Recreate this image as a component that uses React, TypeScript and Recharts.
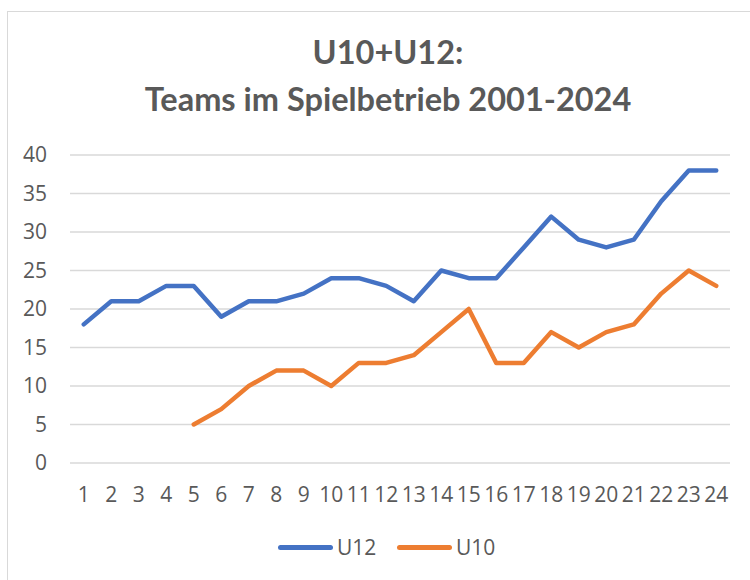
import { CartesianGrid, Line, LineChart, XAxis, YAxis } from "recharts";

const years = [
  "1", "2", "3", "4", "5", "6", "7", "8", "9", "10", "11", "12",
  "13", "14", "15", "16", "17", "18", "19", "20", "21", "22", "23", "24",
];
const u12 = [18, 21, 21, 23, 23, 19, 21, 21, 22, 24, 24, 23, 21, 25, 24, 24, 28, 32, 29, 28, 29, 34, 38, 38];
const u10 = [null, null, null, null, 5, 7, 10, 12, 12, 10, 13, 13, 14, 17, 20, 13, 13, 17, 15, 17, 18, 22, 25, 23];
const yTicks = [0, 5, 10, 15, 20, 25, 30, 35, 40];

const series = [
  { key: "U12", color: "#4472C4" },
  { key: "U10", color: "#ED7D31" },
];

const data = years.map((y, i) => ({ year: y, U12: u12[i], U10: u10[i] }));

const TITLE_FONT = "Lato, 'Open Sans', sans-serif";
const FONT = "'Open Sans', Lato, sans-serif";
const TEXT = "#595959";

export default function App() {
  return (
    <div
      style={{
        position: "absolute",
        left: 0,
        top: 0,
        width: 750,
        height: 580,
        overflow: "hidden",
        background: "#fff",
        fontFamily: FONT,
      }}
    >
      <div
        style={{
          position: "absolute",
          left: 7,
          top: 11,
          width: 780,
          height: 600,
          border: "1.5px solid #d9d9d9",
        }}
      />
      <div
        style={{
          position: "absolute",
          left: 0,
          top: 28,
          width: 776,
          textAlign: "center",
          fontFamily: TITLE_FONT,
          fontSize: 32.5,
          fontWeight: 700,
          lineHeight: "47px",
          color: TEXT,
        }}
      >
        U10+U12:
        <br />
        Teams im Spielbetrieb 2001-2024
      </div>
      <LineChart
        width={750}
        height={580}
        data={data}
        margin={{ top: 155, right: 20, bottom: 77, left: 0 }}
      >
        <CartesianGrid vertical={false} stroke="#d9d9d9" strokeWidth={1.5} />
        <XAxis
          dataKey="year"
          padding={{ left: 13.75, right: 13.75 }}
          axisLine={false}
          tickLine={false}
          tickSize={0}
          tickMargin={24}
          height={40}
          interval={0}
          tick={{ fontSize: 21, fill: TEXT, fontFamily: FONT }}
        />
        <YAxis
          domain={[0, 40]}
          ticks={yTicks}
          width={70}
          axisLine={false}
          tickLine={false}
          tickSize={0}
          tickMargin={23}
          tick={{ fontSize: 21, fill: TEXT, fontFamily: FONT }}
        />
        {series.map((s) => (
          <Line
            key={s.key}
            dataKey={s.key}
            stroke={s.color}
            strokeWidth={4.5}
            strokeLinejoin="round"
            strokeLinecap="round"
            dot={false}
            activeDot={false}
            isAnimationActive={false}
          />
        ))}
      </LineChart>
      {series.map((s, i) => (
        <div
          key={s.key}
          style={{
            position: "absolute",
            left: 278 + i * 119,
            top: 533,
            height: 28,
            display: "flex",
            alignItems: "center",
            fontSize: 21,
            color: TEXT,
          }}
        >
          <span
            style={{
              display: "inline-block",
              width: 55,
              height: 5,
              borderRadius: 3,
              background: s.color,
              marginRight: 4,
            }}
          />
          {s.key}
        </div>
      ))}
    </div>
  );
}
